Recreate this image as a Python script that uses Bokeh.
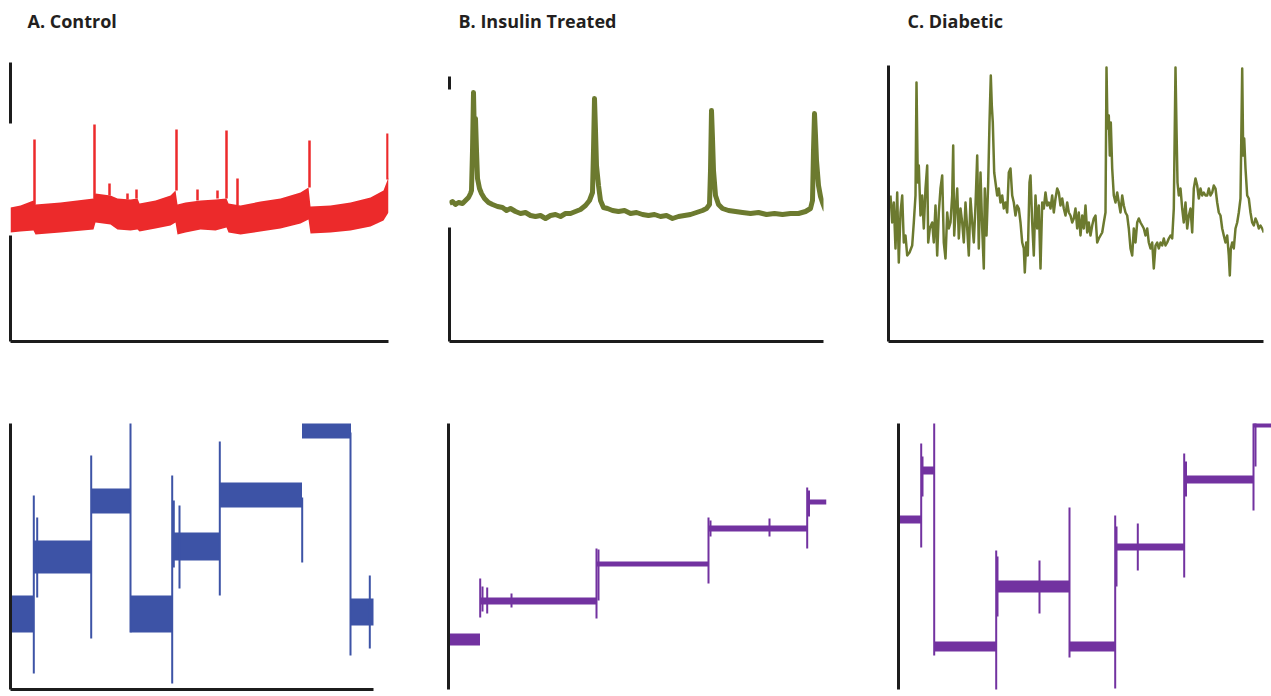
from bokeh.plotting import figure
from bokeh.layouts import column, row
from bokeh.models import Range1d, FixedTicker, LinearAxis
from bokeh.embed import file_html
from bokeh.resources import INLINE

# ---------------- A. Control, upper trace (noisy band + spikes) ----------------
ctrl_t = [0, 10, 23, 25, 50, 83, 85, 100, 107, 120, 127, 129, 145, 160, 165, 167, 175, 190, 205,
          216, 218, 230, 250, 270, 290, 298, 300, 320, 340, 360, 373, 378]
ctrl_low = [107, 108, 109, 105, 107, 110, 117, 115, 110, 109, 110, 108, 111, 114, 117, 105, 107,
            110, 109, 112, 107, 105, 108, 111, 116, 120, 106, 107, 109, 113, 119, 127]
ctrl_high = [132, 134, 139, 135, 137, 141, 146, 144, 141, 140, 141, 136, 139, 144, 149, 135, 137,
             139, 140, 141, 136, 134, 138, 141, 147, 152, 133, 134, 137, 142, 149, 162]
ctrl_spk_t = [24, 84, 99, 117, 126, 166, 187, 207, 216, 227, 299, 377]
ctrl_spk_base = [135, 141, 144, 140, 141, 149, 139, 141, 141, 134, 152, 160]
ctrl_spk_peak = [200, 215, 156, 146, 150, 210, 150, 149, 209, 161, 199, 206]

# ---------------- A. Control, lower trace (steps) ----------------
ctrl2_t = [0, 23.5, 23.5, 81.5, 81.5, 120, 120, 161.5, 161.5, 209.5, 209.5, 291.5, 291.5, 340.5,
           340.5, 365]
ctrl2_low = [55, 55, 114, 114, 174, 174, 55, 55, 127, 127, 180, 180, 249, 249, 62, 62]
ctrl2_high = [92, 92, 147, 147, 199, 199, 92, 92, 155, 155, 205, 205, 270, 270, 89, 89]
ctrl2_spk_t = [23.3, 26.7, 80.7, 120, 161.7, 163.3, 169, 209.3, 291.7, 340, 359.3]
ctrl2_spk_lo = [14, 90, 49, 55, 4, 120, 99, 92, 125, 32, 39]
ctrl2_spk_hi = [192, 170, 232, 265, 212, 187, 182, 246, 190, 255, 112]

# ---------------- B. Insulin Treated, upper trace ----------------
ins_t = [0, 3, 6, 9, 13, 16, 19, 21, 22, 23, 24, 25, 26, 27, 28, 30, 32, 35, 39, 43, 48, 53, 57, 61,
         66, 71, 76, 81, 86, 91, 96, 101, 106, 111, 116, 121, 126, 131, 136, 140, 143, 144, 145, 146,
         147, 149, 151, 154, 158, 163, 169, 175, 181, 187, 193, 199, 205, 211, 217, 223, 229, 235,
         241, 247, 253, 257, 260, 261, 262, 263, 264, 266, 269, 273, 279, 286, 293, 301, 309, 317,
         325, 333, 341, 349, 356, 361, 363, 364, 365, 366, 367, 369, 371, 373, 376]
ins_v = [140, 142, 139, 141, 140, 143, 146, 150, 153, 193, 251, 203, 225, 193, 165, 155, 150, 145,
         141, 139, 137, 136, 133, 135, 132, 130, 131, 128, 127, 128, 125, 128, 129, 127, 130, 130,
         132, 134, 138, 143, 151, 193, 245, 213, 178, 158, 143, 136, 135, 133, 132, 133, 130, 131,
         129, 128, 129, 127, 128, 125, 127, 128, 129, 131, 133, 135, 139, 173, 233, 205, 173, 148,
         139, 135, 133, 132, 131, 130, 131, 129, 130, 129, 130, 130, 132, 135, 143, 193, 230, 208,
         183, 158, 147, 141, 133]

# ---------------- B. Insulin Treated, lower trace (steps) ----------------
ins2_t = [0, 31.5, 31.5, 148, 148, 259.5, 259.5, 358.5, 358.5, 378]
ins2_low = [51, 51, 92, 92, 130, 130, 165, 165, 192, 192]
ins2_high = [63, 63, 99, 99, 135, 135, 171, 171, 197, 197]
ins2_spk_t = [31.7, 34, 38.7, 63, 148, 150, 260, 262, 321, 358.7, 360.5]
ins2_spk_lo = [79, 85, 83, 89, 78, 96, 113, 160, 160, 148, 180]
ins2_spk_hi = [118, 110, 109, 103, 148, 147, 179, 176, 178, 209, 206]

# ---------------- C. Diabetic, upper trace ----------------
dia_t = [2, 3.7, 5.3, 7, 8.7, 10.3, 12, 13.7, 15.3, 17,
         18.7, 21, 23.7, 25.3, 27, 28, 29.3, 30.3, 32, 33.7,
         35.3, 37, 38.7, 39.7, 41.3, 43.7, 45.3, 47, 48.7, 50.3,
         52, 53.7, 55.3, 57, 58.7, 60.3, 62, 63.7, 64.7, 65.7,
         67, 68.7, 70.3, 72, 73.7, 75.3, 77, 78.7, 80.3, 82,
         83.7, 85.3, 87, 88.7, 90.3, 92, 93.7, 95.3, 96.3, 98,
         99.7, 101, 102.3, 103.3, 104.3, 105.7, 107, 108.7, 110.3, 112,
         113.7, 115.3, 117, 118.7, 120.3, 122, 123.7, 125.3, 127, 128.7,
         130.3, 132, 133.7, 135.3, 136.3, 137.7, 139.3, 141, 142, 143.7,
         145.3, 147, 148.7, 150.3, 152, 153.7, 155.3, 157, 158.7, 160.3,
         162, 163.7, 165.3, 167, 168.7, 170.3, 172, 173.7, 175.3, 177,
         178.7, 180.3, 182, 183.7, 185.3,
         187, 188.7, 190.3, 192, 193.7, 195.3, 197, 198.7, 200.3, 202,
         203.7, 205.3, 207, 208.7, 210.3, 212, 213.7, 215.3, 217, 218,
         219, 220.3, 221.3, 222.3, 223.7, 225.3, 227, 228.7, 230.3, 232,
         233.7, 235.3, 237, 238.7, 240.3, 242, 243.7, 245.3, 247, 248.7,
         250.3, 252, 253.7, 255.3, 257, 258.7, 260.3, 262, 263.7, 265.3,
         267, 268.7, 270.3, 272, 273.7, 275.3, 277, 278.7, 280.3, 282,
         283.7, 285.3, 287, 288, 289, 290.3, 292, 293.7, 295.3, 297,
         298.7, 300.3, 302, 303.7, 305.3, 307, 308.7, 310.3, 312, 313.7,
         315.3, 317, 318.7, 320.3, 322, 323.7, 325.3, 327, 328.7, 330.3,
         332, 333.7, 335.3, 337, 338.7, 340.3, 341.3, 342.3, 343.7, 345.3,
         347, 348.7, 350.3, 352, 353.7, 354.7, 355.7, 357, 358.7, 360.3,
         362, 363.7, 365.3, 367, 368.7, 370.3, 372, 373.7, 375.3]
dia_v = [148, 121, 141, 95, 151, 81, 131, 148, 101, 108,
         88, 91, 98, 121, 148, 261, 161, 178, 128, 148,
         115, 155, 178, 101, 115, 121, 101, 138, 88, 131,
         155, 168, 101, 85, 131, 115, 121, 148, 198, 108,
         131, 155, 105, 135, 121, 101, 141, 115, 88, 145,
         121, 101, 138, 188, 95, 171, 115, 75, 155, 108,
         161, 221, 268, 238, 221, 171, 161, 148, 155, 141,
         148, 135, 141, 131, 171, 175, 148, 141, 128, 138,
         135, 121, 101, 95, 71, 101, 88, 161, 168, 121,
         88, 148, 115, 138, 75, 141, 135, 151, 138, 141,
         135, 148, 131, 145, 155, 151, 138, 145, 135, 128,
         141, 131, 128, 121, 125,
         135, 115, 131, 108, 128, 115, 138, 111, 121, 108,
         118, 125, 128, 101, 105, 108, 111, 121, 131, 276,
         215, 228, 188, 221, 175, 148, 141, 151, 141, 131,
         148, 138, 131, 128, 115, 95, 88, 115, 101, 121,
         125, 121, 118, 115, 108, 115, 101, 95, 101, 75,
         98, 101, 95, 101, 98, 105, 98, 101, 105, 108,
         105, 135, 276, 215, 161, 148, 155, 135, 121, 141,
         115, 128, 135, 111, 155, 165, 158, 145, 155, 148,
         151, 148, 148, 155, 148, 151, 158, 155, 141, 131,
         128, 115, 108, 101, 108, 88, 68, 95, 101, 95,
         115, 121, 131, 145, 275, 188, 205, 175, 148, 145,
         131, 121, 118, 125, 121, 115, 118, 115, 111]

# ---------------- C. Diabetic, lower trace (steps) ----------------
dia2_t = [0, 22.5, 22.5, 35.7, 35.7, 97.5, 97.5, 171, 171, 216.5, 216.5, 285.5, 285.5, 355, 355, 373]
dia2_low = [173, 173, 222, 222, 45, 45, 104, 104, 45, 45, 146, 146, 213, 213, 269, 269]
dia2_high = [181, 181, 230, 230, 55, 55, 116, 116, 55, 55, 153, 153, 221, 221, 276, 276]
dia2_spk_t = [22.7, 24, 35.7, 97.7, 99, 141, 171, 216.7, 218, 239.3, 285.7, 287.5, 355, 357]
dia2_spk_lo = [149, 200, 41, 1, 80, 83, 39, 8, 110, 126, 119, 200, 186, 230]
dia2_spk_hi = [253, 240, 274, 146, 140, 136, 189, 181, 170, 173, 243, 235, 274, 274]

RED = "#EC2A2B"
BLUE = "#3D53A6"
OLIVE = "#6C7A2F"
PURPLE = "#7232A0"
AXIS = "#1c1c1c"


def style_axis(ax):
    ax.ticker = FixedTicker(ticks=[])
    ax.major_tick_line_color = None
    ax.minor_tick_line_color = None
    ax.major_tick_out = 0
    ax.minor_tick_out = 0
    ax.major_tick_in = 0
    ax.minor_tick_in = 0
    ax.major_label_standoff = 0
    ax.major_label_text_font_size = "0px"
    ax.axis_line_width = 3
    ax.axis_line_color = AXIS


def panel(w, h, xr, yr, ml, mr, mt, mb, ybounds, title=None, toff=0, xaxis=True):
    p = figure(width=w, height=h, x_range=Range1d(*xr), y_range=Range1d(*yr),
               output_backend="svg", toolbar_location=None,
               min_border_left=ml, min_border_right=mr, min_border_top=mt, min_border_bottom=mb)
    p.grid.visible = False
    p.outline_line_color = None
    p.background_fill_color = "white"
    p.border_fill_color = "white"
    for ax in p.axis:
        style_axis(ax)
    p.yaxis[0].bounds = ybounds[0]
    for b in ybounds[1:]:
        extra = LinearAxis(bounds=b)
        style_axis(extra)
        p.add_layout(extra, "left")
    if not xaxis:
        p.xaxis.visible = False
    if title:
        p.title.text = title
        p.title.text_font = "Open Sans"
        p.title.text_font_size = "18px"
        p.title.text_font_style = "bold"
        p.title.text_color = "#231F20"
        p.title.align = "left"
        p.title.offset = toff
        p.title.standoff = 7
    return p


# Upper row (shared frame top/bottom; axis lines limited with bounds)
a1 = panel(430, 360, (0, 378), (-2, 303), 10, 42, 36, 19, [(-2, 104), (216, 277)], "A. Control", 17)
a1.varea(x=ctrl_t, y1=ctrl_low, y2=ctrl_high, fill_color=RED)
a1.segment(x0=ctrl_spk_t, y0=ctrl_spk_base, x1=ctrl_spk_t, y1=ctrl_spk_peak, line_color=RED, line_width=2.5)

b1 = panel(430, 360, (0, 374), (2, 307), 19, 37, 36, 19, [(2, 116), (254, 267)], "B. Insulin Treated", 9)
b1.line(ins_t, ins_v, line_color=OLIVE, line_width=5, line_join="round")

c1 = panel(411, 360, (0, 375), (2, 307), 28, 8, 36, 19, [(2, 278)], "C. Diabetic", 19)
c1.line(dia_t, dia_v, line_color=OLIVE, line_width=2.5, line_join="round")

# Lower row
a2 = panel(430, 336, (0, 363), (-2, 264), 10, 57, 63, 7, [(-2, 265)])
a2.varea(x=ctrl2_t, y1=ctrl2_low, y2=ctrl2_high, fill_color=BLUE)
a2.segment(x0=ctrl2_spk_t, y0=ctrl2_spk_lo, x1=ctrl2_spk_t, y1=ctrl2_spk_hi, line_color=BLUE, line_width=2)

b2 = panel(430, 336, (0, 378), (7, 273), 18, 34, 63, 7, [(7, 273)], xaxis=False)
b2.varea(x=ins2_t, y1=ins2_low, y2=ins2_high, fill_color=PURPLE)
b2.segment(x0=ins2_spk_t, y0=ins2_spk_lo, x1=ins2_spk_t, y1=ins2_spk_hi, line_color=PURPLE, line_width=2)

c2 = panel(411, 336, (0, 373), (7, 273), 38, 0, 63, 7, [(7, 273)], xaxis=False)
c2.varea(x=dia2_t, y1=dia2_low, y2=dia2_high, fill_color=PURPLE)
c2.segment(x0=dia2_spk_t, y0=dia2_spk_lo, x1=dia2_spk_t, y1=dia2_spk_hi, line_color=PURPLE, line_width=2)

layout = column(row(a1, b1, c1), row(a2, b2, c2))
open("out.html", "w").write(file_html(layout, INLINE))
